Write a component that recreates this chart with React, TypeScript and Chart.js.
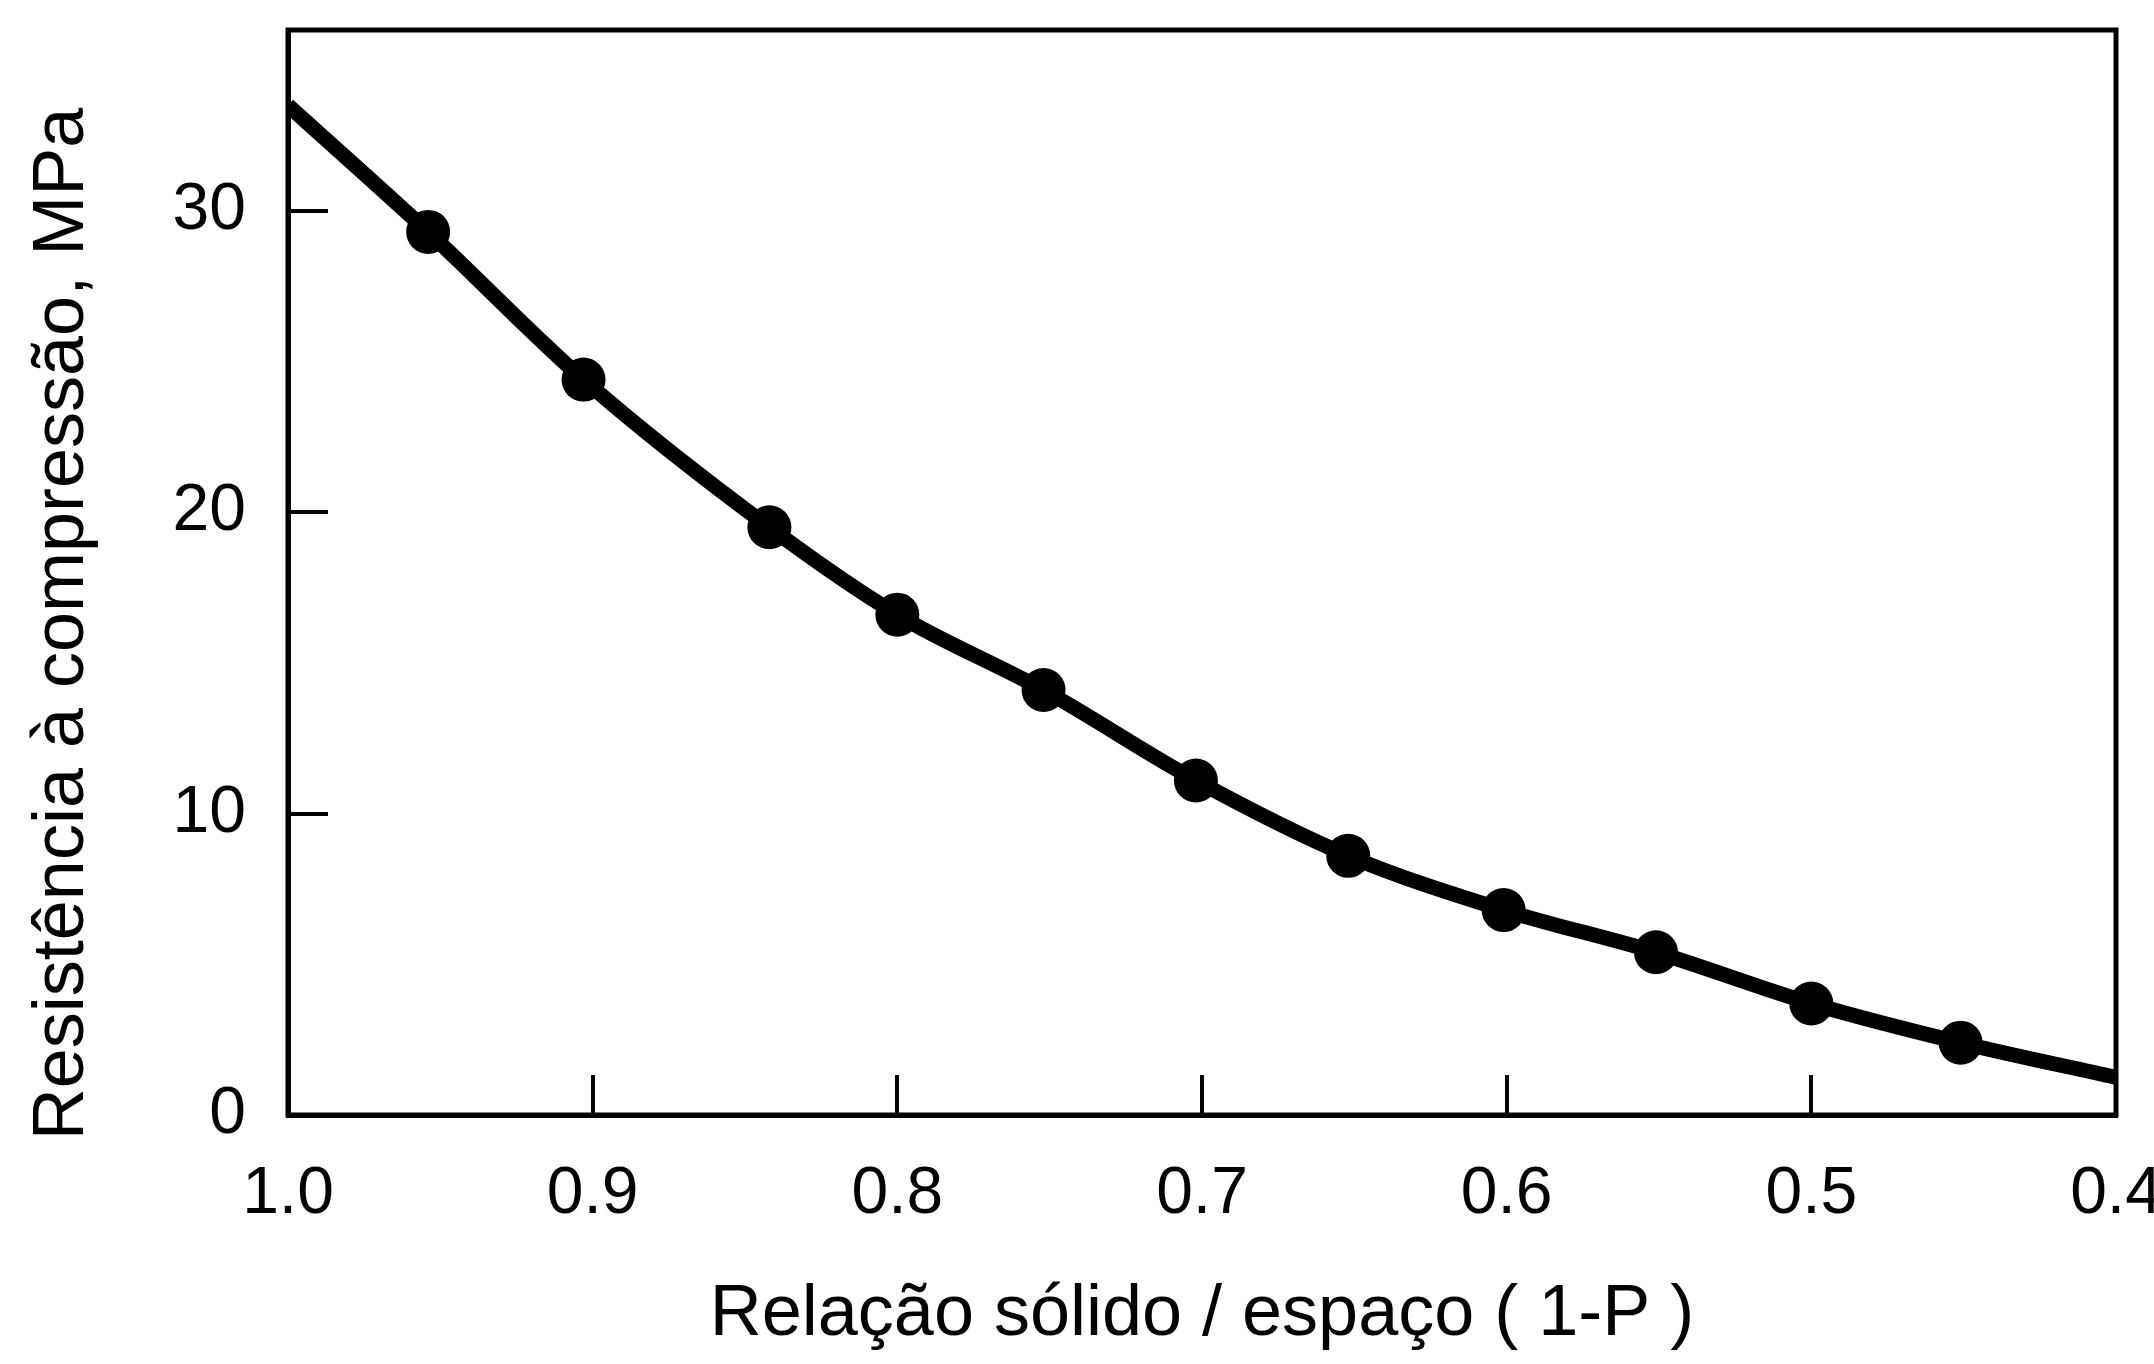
import React, { useEffect, useRef } from "react";
import { Chart, registerables } from "chart.js";

Chart.register(...registerables);

// Measured points (solid/space ratio vs compressive strength, MPa)
const markerX = [0.954, 0.903, 0.842, 0.8, 0.752, 0.702, 0.652, 0.601, 0.551, 0.5, 0.451];
const markerY = [29.3, 24.4, 19.5, 16.6, 14.1, 11.1, 8.6, 6.8, 5.4, 3.7, 2.4];

// Fitted curve through the points, from the left edge to the right edge
const curveX = [1.0, 0.954, 0.903, 0.842, 0.8, 0.752, 0.702, 0.652, 0.601, 0.551, 0.5, 0.451, 0.4];
const curveY = [33.5, 29.3, 24.4, 19.5, 16.6, 14.1, 11.1, 8.6, 6.8, 5.4, 3.7, 2.4, 1.25];

const xTicks = [1.0, 0.9, 0.8, 0.7, 0.6, 0.5, 0.4];
const yTicks = [0, 10, 20, 30];

const xTitle = "Relação sólido / espaço ( 1-P )";
const yTitle = "Resistência à compressão, MPa";

const FONT = "'Liberation Sans', Arial, sans-serif";

export default function App() {
  const canvasRef = useRef<HTMLCanvasElement | null>(null);

  useEffect(() => {
    const canvas = canvasRef.current;
    if (!canvas) return;

    const framePlugin = {
      id: "frame",
      afterDraw(chart: any) {
        const { ctx, chartArea } = chart;
        ctx.save();
        ctx.strokeStyle = "#000";
        ctx.lineWidth = 5;
        ctx.strokeRect(chartArea.left, chartArea.top, chartArea.right - chartArea.left, chartArea.bottom - chartArea.top);
        // y-axis title
        ctx.translate(63, 624);
        ctx.rotate(-Math.PI / 2);
        ctx.fillStyle = "#000";
        ctx.font = `72px ${FONT}`;
        ctx.textAlign = "center";
        ctx.textBaseline = "middle";
        ctx.fillText(yTitle, 0, 0);
        ctx.restore();
      },
    };

    const chart = new Chart(canvas, {
      type: "line",
      data: {
        datasets: [
          {
            data: curveX.map((x, i) => ({ x, y: curveY[i] })),
            borderColor: "#000",
            borderWidth: 15,
            pointRadius: 0,
            fill: false,
            cubicInterpolationMode: "monotone",
          },
          {
            data: markerX.map((x, i) => ({ x, y: markerY[i] })),
            showLine: false,
            pointRadius: 22,
            pointStyle: "circle",
            backgroundColor: "#000",
            borderColor: "#000",
            borderWidth: 0,
          },
        ],
      },
      options: {
        animation: false,
        responsive: false,
        devicePixelRatio: 1,
        layout: { padding: { top: 30, right: 38, bottom: 0, left: 0 } },
        plugins: {
          legend: { display: false },
          tooltip: { enabled: false },
        },
        scales: {
          x: {
            type: "linear",
            reverse: true,
            min: 0.4,
            max: 1.0,
            afterBuildTicks: (scale: any) => {
              scale.ticks = xTicks.map((v) => ({ value: v }));
            },
            afterFit: (scale: any) => {
              scale.height = 249;
              scale.paddingLeft = 0;
              scale.paddingRight = 0;
            },
            grid: {
              drawOnChartArea: false,
              drawTicks: true,
              tickLength: -40,
              color: "#000",
              lineWidth: 4,
            },
            border: { display: true, color: "#000", width: 5 },
            ticks: {
              autoSkip: false,
              maxRotation: 0,
              padding: 80,
              color: "#000",
              font: { family: FONT, size: 66 },
              callback: (v: any) => Number(v).toFixed(1),
            },
            title: {
              display: true,
              text: xTitle,
              color: "#000",
              font: { family: FONT, size: 72 },
              padding: { top: 0, bottom: 6 },
            },
          },
          y: {
            type: "linear",
            min: 0,
            max: 36,
            afterBuildTicks: (scale: any) => {
              scale.ticks = yTicks.map((v) => ({ value: v }));
            },
            afterFit: (scale: any) => {
              scale.width = 288;
              scale.paddingTop = 0;
              scale.paddingBottom = 0;
            },
            grid: {
              drawOnChartArea: false,
              drawTicks: true,
              tickLength: -40,
              color: "#000",
              lineWidth: 4,
            },
            border: { display: true, color: "#000", width: 5 },
            ticks: {
              autoSkip: false,
              padding: 82,
              color: "#000",
              font: { family: FONT, size: 66 },
              callback: (v: any) => String(Math.round(Number(v))),
            },
          },
        },
      },
      plugins: [framePlugin],
    } as any);

    return () => chart.destroy();
  }, []);

  return (
    <div style={{ position: "absolute", left: 0, top: 0, width: 2154, height: 1364, background: "#fff" }}>
      <canvas ref={canvasRef} width={2154} height={1364} style={{ display: "block" }} />
    </div>
  );
}
